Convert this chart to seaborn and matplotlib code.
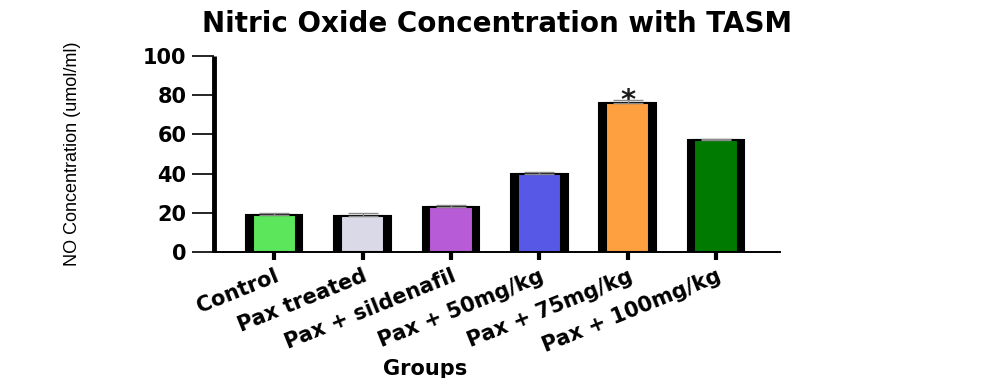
import matplotlib
matplotlib.use("Agg")
import matplotlib.pyplot as plt
import seaborn as sns
import numpy as np
import pandas as pd

# Nitric oxide concentration per treatment group (mean and SEM, umol/ml)
groups = ["Control", "Pax treated", "Pax + sildenafil", "Pax + 50mg/kg",
          "Pax + 75mg/kg", "Pax + 100mg/kg"]
means = [19.0, 18.3, 23.0, 40.0, 75.8, 57.2]
sems = [1.0, 1.4, 1.0, 1.0, 1.8, 0.6]
bar_colors = ["#5be65b", "#d9d9e8", "#b85bd6", "#5858e6", "#ffa040", "#007a00"]
significant = [False, False, False, False, True, False]

df = pd.DataFrame({"group": groups, "no": means})

sns.set_theme(style="ticks")
plt.rcParams["font.family"] = ["DejaVu Sans"]
plt.rcParams["text.color"] = "black"
plt.rcParams["axes.labelcolor"] = "black"
plt.rcParams["xtick.color"] = "black"
plt.rcParams["ytick.color"] = "black"

fig = plt.figure(figsize=(9.82, 3.78), dpi=100)
ax = fig.add_axes([0.218, 0.3333, 0.576, 0.5185])

# thick black frame behind each bar, coloured bar on top
sns.barplot(data=df, x="group", y="no", color="black", width=0.64,
            edgecolor="black", linewidth=1.5, errorbar=None, ax=ax,
            saturation=1)
sns.barplot(data=df, x="group", y="no", hue="group", palette=bar_colors,
            width=0.49, edgecolor="black", linewidth=1.5, errorbar=None,
            legend=False, ax=ax, saturation=1)

pos = np.arange(len(groups))
ax.errorbar(pos, means, yerr=[np.zeros(len(sems)), sems], fmt="none",
            ecolor="#8a8a8a", elinewidth=1.0, capsize=10.5, capthick=1.0,
            zorder=5)

for x, m, s, sig in zip(pos, means, sems, significant):
    if sig:
        ax.text(x, m + s - 4.5, "*", ha="center", va="baseline", fontsize=21,
                fontweight="bold", color="#1a1a1a")

ax.set_ylim(0, 100)
ax.set_xlim(-0.68, 5.72)
ax.set_yticks([0, 20, 40, 60, 80, 100])
ax.set_yticklabels(["0", "20", "40", "60", "80", "100"], fontsize=15,
                   fontweight="bold")
ax.set_xticks(pos)
ax.set_xticklabels(groups, fontsize=15, fontweight="bold", rotation=22,
                   ha="right", rotation_mode="anchor")

for side in ("top", "right"):
    ax.spines[side].set_visible(False)
ax.spines["left"].set_linewidth(3.5)
ax.spines["bottom"].set_linewidth(1.4)
ax.spines["left"].set_capstyle("butt")
ax.spines["left"].set_color("black")
ax.spines["bottom"].set_color("black")
ax.tick_params(axis="y", length=16, width=1.2, color="black", pad=4)
ax.tick_params(axis="x", length=6, width=3, color="black", pad=4)

ax.set_ylabel("NO Concentration (umol/ml)", fontsize=13,
              family=["Liberation Sans", "DejaVu Sans"], color="black")
ax.yaxis.set_label_coords(-0.235, 0.5)
ax.set_xlabel("Groups", fontsize=15, fontweight="bold", color="black")
ax.xaxis.set_label_coords(0.373, -0.545)

fig.text(0.506, 1 - 32 / 378, "Nitric Oxide Concentration with TASM",
         ha="center", va="baseline", fontsize=20, fontweight="bold")

fig.savefig("out.png", dpi=100, facecolor="white")
